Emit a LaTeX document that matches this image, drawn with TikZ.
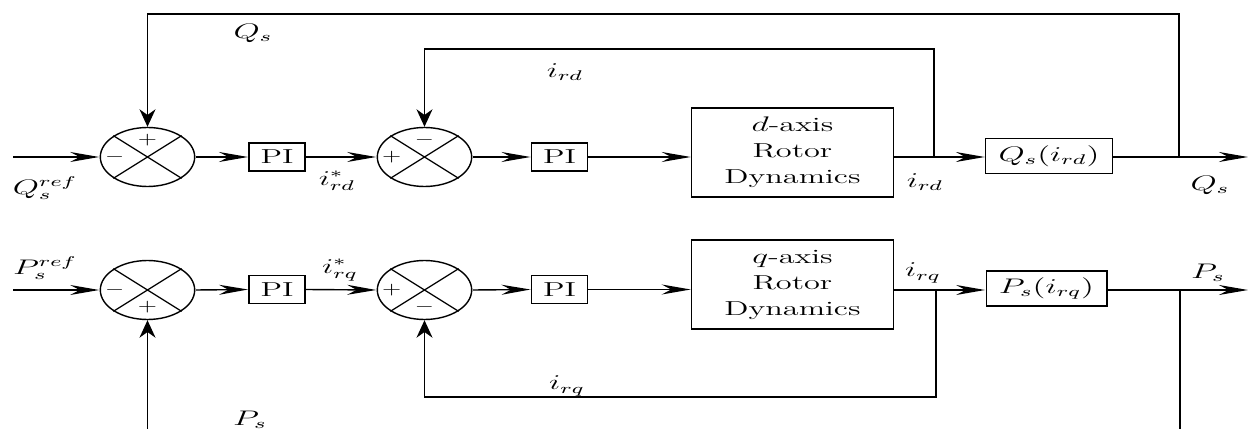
\documentclass[tikz,border=0pt]{standalone}
\usepackage{amsmath,amssymb}
\usetikzlibrary{arrows.meta,positioning,calc}
\tikzset{
  sumnode/.style={circle, draw, line width=0.8pt, minimum size=1.18cm, inner sep=0pt, xscale=1.6},
  pibox/.style={draw, line width=0.7pt, xscale=1.6, minimum width=0.7cm, minimum height=0.56cm, inner sep=0pt},
  dynbox/.style={draw, line width=0.7pt, xscale=1.6, align=center, minimum width=2.52cm, minimum height=1.78cm, inner sep=0pt},
  outbox/.style={draw, line width=0.7pt, xscale=1.6, minimum height=0.7cm, inner sep=0pt},
  lbl/.style={xscale=1.6, inner sep=0pt},
  sgn/.style={xscale=1.4, inner sep=0pt, font=\fontsize{10}{12}\selectfont},
  harrow/.style={line width=0.8pt, -{Stealth[length=0.58cm, width=0.2cm]}},
  varrow/.style={line width=0.8pt, -{Stealth[length=0.35cm, width=0.32cm]}},
  wire/.style={line width=0.8pt}
}
\begin{document}
\begin{tikzpicture}[x=0.02cm, y=-0.02cm, font=\fontsize{11.5}{14.8}\selectfont]
    \useasboundingbox (0,0) rectangle (1249,429);

    % d-axis loop (top row)
    \node[sumnode] (s1) at (147.5,157) {};
    \node[pibox]   (pi1) at (277,157) {PI};
    \node[sumnode] (s2) at (424.5,157) {};
    \node[pibox]   (pi2) at (559.5,157) {PI};
    \node[dynbox]  (dbox) at (792.5,152.5) {$d$-axis\\Rotor\\Dynamics};
    \node[outbox, minimum width=1.58cm] (qbox) at (1049,156) {$Q_s(i_{rd})$};
    \coordinate (qin) at (13,157);
    \coordinate (b1) at (934,157);
    \coordinate (b2) at (1179,157);
    \coordinate (qout) at (1248,157);

    % q-axis loop (bottom row)
    \node[sumnode] (s3) at (147.5,290) {};
    \node[pibox]   (pi3) at (277,289.5) {PI};
    \node[sumnode] (s4) at (424.5,290) {};
    \node[pibox]   (pi4) at (559.5,289.5) {PI};
    \node[dynbox]  (qbx) at (792.5,284.5) {$q$-axis\\Rotor\\Dynamics};
    \node[outbox, minimum width=1.51cm] (pbox) at (1046.5,288.5) {$P_s(i_{rq})$};
    \coordinate (pin) at (13,290);
    \coordinate (b3) at (936,290);
    \coordinate (b4) at (1180,290);
    \coordinate (pout) at (1248,290);
    \coordinate (pfb) at (147.5,429);

    % Crosses inside the summing junctions
    \foreach \s in {s1,s2,s3,s4}{
      \draw[line width=0.7pt] (\s.north west) -- (\s.south east);
      \draw[line width=0.7pt] (\s.north east) -- (\s.south west);
    }

    % Signs
    \node[sgn] (s1t) at ($(s1)!0.57!(s1.north)$) {$+$};
    \node[sgn] (s1l) at ($(s1)!0.68!(s1.west)$)  {$-$};
    \node[sgn] (s2t) at ($(s2)!0.57!(s2.north)$) {$-$};
    \node[sgn] (s2l) at ($(s2)!0.68!(s2.west)$)  {$+$};
    \node[sgn] (s3b) at ($(s3)!0.57!(s3.south)$) {$+$};
    \node[sgn] (s3l) at ($(s3)!0.68!(s3.west)$)  {$-$};
    \node[sgn] (s4b) at ($(s4)!0.57!(s4.south)$) {$-$};
    \node[sgn] (s4l) at ($(s4)!0.68!(s4.west)$)  {$+$};

    % Forward path, top
    \draw[harrow] (qin) -- (s1.west);
    \draw[harrow] (s1.east) -- (pi1.west);
    \draw[harrow] (pi1.east) -- (s2.west);
    \draw[harrow] (s2.east) -- (pi2.west);
    \draw[harrow] (pi2.east) -- (pi2.east -| dbox.west);
    \draw[wire] (b1 -| dbox.east) -- (b1);
    \draw[harrow] (b1) -- (b1 -| qbox.west);
    \draw[wire] (b2 -| qbox.east) -- (b2);
    \draw[harrow] (b2) -- (qout);

    % Feedback, top
    \draw[varrow] (b2) -- ++(0,-143) -| (s1.north);
    \draw[varrow] (b1) -- ++(0,-108) -| (s2.north);

    % Forward path, bottom
    \draw[harrow] (pin) -- (s3.west);
    \draw[harrow] (s3.east) -- (pi3.west);
    \draw[harrow] (pi3.east) -- (s4.west);
    \draw[harrow] (s4.east) -- (pi4.west);
    \draw[harrow] (pi4.east) -- (pi4.east -| qbx.west);
    \draw[wire] (b3 -| qbx.east) -- (b3);
    \draw[harrow] (b3) -- (b3 -| pbox.west);
    \draw[wire] (b4 -| pbox.east) -- (b4);
    \draw[harrow] (b4) -- (pout);

    % Feedback, bottom
    \draw[varrow] (b3) -- ++(0,107) -| (s4.south);
    \draw[wire] (b4) -- ++(0,139);
    \draw[varrow] (pfb) -- (s3.south);

    % Signal labels
    \node[lbl] (lqs1) at (253,33)  {$Q_s$};
    \node[lbl] (lird1) at (565,72) {$i_{rd}$};
    \node[lbl] (lqref) at (45,188) {$Q_s^{ref}$};
    \node[lbl] (lirds) at (337,181) {$i_{rd}^{*}$};
    \node[lbl] (lird2) at (925,182) {$i_{rd}$};
    \node[lbl] (lqs2) at (1210,185) {$Q_s$};
    \node[lbl] (lpref) at (45,268) {$P_s^{ref}$};
    \node[lbl] (lirqs) at (340,270) {$i_{rq}^{*}$};
    \node[lbl] (lirq1) at (923,273) {$i_{rq}$};
    \node[lbl] (lps1) at (1208,273) {$P_s$};
    \node[lbl] (lirq2) at (567,386) {$i_{rq}$};
    \node[lbl] (lps2) at (250,420) {$P_s$};
\end{tikzpicture}
\end{document}
